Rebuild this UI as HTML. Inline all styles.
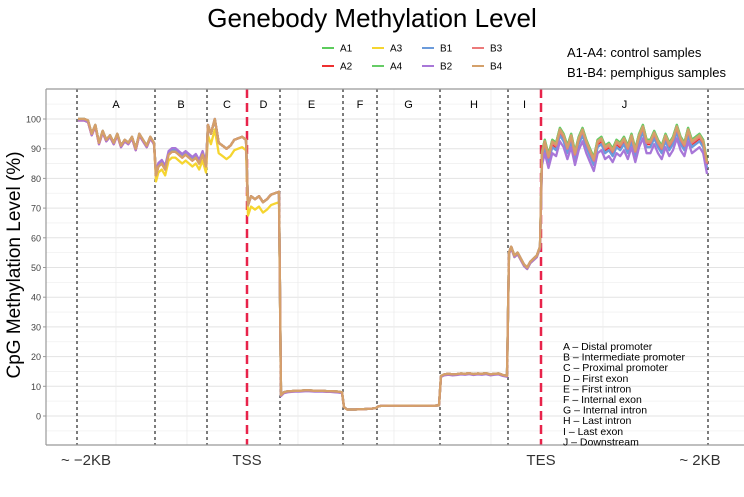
<!DOCTYPE html>
<html><head><meta charset="utf-8"><style>
body{margin:0;background:#fff;width:744px;height:492px;overflow:hidden;font-family:"Liberation Sans",sans-serif}
</style></head><body>
<svg id="c" width="744" height="492" xmlns="http://www.w3.org/2000/svg" font-family="Liberation Sans, sans-serif">
<text x="372" y="27" text-anchor="middle" font-size="26" fill="#000">Genebody Methylation Level</text>
<text x="567" y="57" font-size="13" fill="#000">A1-A4: control samples</text>
<text x="567" y="77" font-size="13" fill="#000">B1-B4: pemphigus samples</text>
<text transform="translate(20,265) rotate(-90)" text-anchor="middle" font-size="19" fill="#000">CpG Methylation Level (%)</text>
<g id="grid"></g><g id="vl"></g><g id="lines"></g><g id="axes"></g><g id="leg"></g>
</svg>
<script>
const regions=["A","B","C","D","E","F","G","H","I","J"];
const regionDesc=["A – Distal promoter","B – Intermediate promoter","C – Proximal promoter","D – First exon","E – First intron","F – Internal exon","G – Internal intron","H – Last intron","I – Last exon","J – Downstream"];
const yTicks=[0,10,20,30,40,50,60,70,80,90,100];
const seriesNames=["A1","A2","A3","A4","B1","B2","B3","B4"];
const colors=["#5ccc5c","#ee3030","#f5d530","#66cc66","#6b9bdb","#a877d8","#ec7a7a","#d4a06a"];
// base values per region
const baseA=[100,100,100,99.5,95,98,92,96,93,94.5,92,95,91,93,92,94,90,95,93,91,94,92];
const baseB=[81,84,85,83,88,89,89,88,87,88,87,86,87,85,88,84];
const baseC=[98,95,100,92,91,90,91,93,93.5,94,93];
const baseD=[71,74,73,74,72,73,74.5,75,75.5];
const baseE=[7,8,8.3,8.4,8.5,8.5,8.6,8.7,8.6,8.5,8.5,8.5,8.4,8.4,8.3,8.2,8];
const baseF=[3,2.2,2.2,2.2,2.3,2.3,2.4,2.5,2.7];
const baseG=[3.2,3.4,3.4,3.5,3.5,3.4,3.5,3.5,3.5,3.4,3.5,3.5,3.5,3.5,3.4,3.5,3.6];
const baseH=[13.5,14,14.2,14,14.1,14.3,14.2,14.4,14.1,14.3,14.2,14.4,14,14.2,14.3,13.8,13.5];
const baseI=[55,57,54,55,53,51,50,52,53,54,57];
const baseJ=[88,92,87,92,91,96,94,90,94,88,93,96,92,89,86,92,93,90,91,89,92,91,93,90,94,89,94,97,92,92,95,92,90,94,91,93,97,93,91,96,92,93,94,92,85];
// per-series offset per region (A..J)
const offA1=[0,0.5,0,0,0,0,0,0,0,1];
const offA2=[-0.5,0,0,0,0,0,0,0,0,-0.5];
const offA3=[0,-2,-3.5,-3.5,0,0,0,0,-0.5,0.5];
const offA4=[0,0.5,0,0,0,0,0,0,0,1];
const offB1=[0,0.5,0,0,0,0,0,0,0,-1.5];
const offB2=[-0.5,1.2,0,0,-0.3,0,0,-0.3,-0.5,-3.5];
const offB3=[0,0,0,0,0,0,0,0,0,0];
const offB4=[0,0,0,0,0,0,0,0,0,0.5];
const offsets=[offA1,offA2,offA3,offA4,offB1,offB2,offB3,offB4];
const bases=[baseA,baseB,baseC,baseD,baseE,baseF,baseG,baseH,baseI,baseJ];
const bounds=[77,155,207,247,280,343,377,440,508,541,708];
const NS="http://www.w3.org/2000/svg";
const L=46,R=744,T=89,B=445;
const y=v=>416-v*2.97;
function mk(t,a,p){const e=document.createElementNS(NS,t);for(const k in a)e.setAttribute(k,a[k]);p.appendChild(e);return e;}
const grid=document.getElementById('grid');
for(let v=-5;v<=105;v+=5){if(y(v)<T||y(v)>B)continue;
 const g=mk('line',{x1:L,x2:R,y1:y(v),y2:y(v),stroke:v%10===0?'#e3e3e3':'#f0f0f0','stroke-width':v%10===0?1:0.8},grid);
 
 }
[116,187,298,394,491,603].forEach(x=>{const g=mk('line',{x1:x,x2:x,y1:T,y2:B,stroke:'#ececec','stroke-width':0.8},grid);
 
 });
const vl=document.getElementById('vl');
bounds.forEach((x,i)=>{const red=(i===3||i===9);
 const l=mk('line',{x1:x,x2:x,y1:T,y2:B,stroke:red?'#e8234a':'#111','stroke-width':red?2.5:1.1,'stroke-dasharray':red?'9 5':'3 3'},vl);
 
 });
regions.forEach((r,i)=>{const t=mk('text',{x:(bounds[i]+bounds[i+1])/2,y:108,'text-anchor':'middle','font-size':11,fill:'#000'},vl);t.textContent=r;
 
 });
const lines=document.getElementById('lines');
seriesNames.forEach((s,si)=>{let pts=[];
 bases.forEach((b,ri)=>{const x0=bounds[ri],x1=bounds[ri+1];
  b.forEach((v,k)=>{const x=x0+(b.length===1?0:k*(x1-x0-1)/(b.length-1))+ (k===0?1:0);
   pts.push(x.toFixed(1)+','+y(v+offsets[si][ri]).toFixed(1));});});
 const p=mk('polyline',{points:pts.join(' '),fill:'none',stroke:colors[si],'stroke-width':2.3,'stroke-linejoin':'round'},lines);
 
 });
const ax=document.getElementById('axes');
let a=mk('line',{x1:L,x2:L,y1:T,y2:B,stroke:'#999','stroke-width':1.2},ax);

a=mk('line',{x1:L,x2:R,y1:B,y2:B,stroke:'#999','stroke-width':1.2},ax);

a=mk('line',{x1:L,x2:R,y1:T,y2:T,stroke:'#999','stroke-width':1.2},ax);

yTicks.forEach(v=>{const t=mk('text',{x:41,y:y(v)+3.5,'text-anchor':'end','font-size':9,fill:'#444'},ax);t.textContent=v;
 
 
 const k=mk('line',{x1:43,x2:L,y1:y(v),y2:y(v),stroke:'#999'},ax);
 
 });
const xl=[["~ \u22122KB",86],["TSS",247],["TES",541],["~ 2KB",700]];
xl.forEach(([s,x])=>{const t=mk('text',{x:x,y:465,'text-anchor':'middle','font-size':15,fill:'#333'},ax);t.textContent=s;
 
 });
regionDesc.forEach((s,i)=>{const t=mk('text',{x:563,y:350+i*10.6,'font-size':10.5,fill:'#000'},ax);t.textContent=s;
 
 });
const leg=document.getElementById('leg');
seriesNames.forEach((s,i)=>{const col=Math.floor(i/2),row=i%2;const x=322+col*50,yy=48+row*18;
 const g=mk('g',{},leg);
 
 
 mk('line',{x1:x,x2:x+12,y1:yy,y2:yy,stroke:colors[i],'stroke-width':2},g);
 const t=mk('text',{x:x+18,y:yy+3.5,'font-size':10,fill:'#000'},g);t.textContent=s;});
</script>
</body></html>
